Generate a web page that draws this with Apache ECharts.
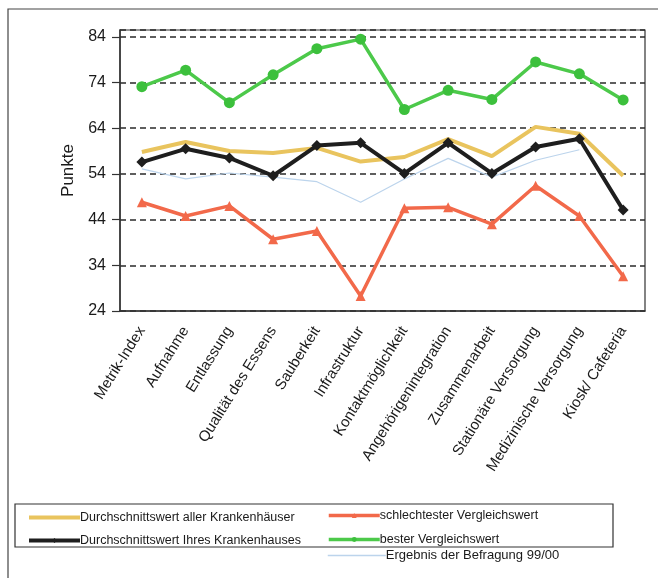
<!DOCTYPE html>
<html><head><meta charset="utf-8">
<script src="https://cdn.jsdelivr.net/npm/echarts@6/dist/echarts.min.js"></script>
<style>html,body{margin:0;padding:0;background:#fff}#c{width:658px;height:578px}</style>
</head><body><div id="c"></div>
<script>
const categories = ['Metrik-Index','Aufnahme','Entlassung','Qualität des Essens','Sauberkeit','Infrastruktur','Kontaktmöglichkeit','Angehörigenintegration','Zusammenarbeit','Stationäre Versorgung','Medizinische Versorgung','Kiosk/ Cafeteria'];
const avgAll   = [58.8, 61.0, 59.0, 58.6, 59.7, 56.7, 57.7, 61.6, 57.9, 64.3, 62.8, 53.6];
const avgOwn   = [56.6, 59.5, 57.5, 53.6, 60.2, 60.8, 54.1, 60.8, 54.1, 59.9, 61.7, 46.1];
const worst    = [47.8, 44.8, 47.0, 39.7, 41.5, 27.3, 46.5, 46.7, 43.0, 51.4, 44.8, 31.6];
const best     = [73.1, 76.7, 69.6, 75.7, 81.4, 83.5, 68.1, 72.3, 70.3, 78.5, 75.9, 70.2];
const prev9900 = [55.1, 52.9, 54.2, 53.3, 52.3, 47.8, 52.9, 57.4, 53.3, 57.0, 59.3, null];
const yTicks = {min: 24, max: 85.5, interval: 10};
const names = ['Durchschnittswert aller Krankenhäuser','Durchschnittswert Ihres Krankenhauses','schlechtester Vergleichswert','bester Vergleichswert','Ergebnis der Befragung 99/00'];

const font = 'Liberation Sans, Arial, sans-serif';
const chart = echarts.init(document.getElementById('c'));
function leg(name, left, top, lw, hideSym, fs, w){
  return {data:[name], left:left, top:top, itemWidth:w || 51, itemHeight:6, itemGap:0, padding:0,
    lineStyle:{width:lw}, itemStyle: hideSym ? {opacity:0} : {},
    textStyle:{fontFamily:font, fontSize:fs || 12.5, color:'#1a1a1a', padding:[0,0,0,-5]}, selectedMode:false};
}
chart.setOption({
  animation:false,
  backgroundColor:'#fff',
  grid:{left:120, right:13, top:30, bottom:267, show:true, borderColor:'#333', borderWidth:1.2},
  graphic:[
    {type:'rect', shape:{x:8,y:9,width:660,height:600}, style:{fill:'none', stroke:'#444', lineWidth:1.2}, silent:true},
    {type:'rect', shape:{x:15,y:504,width:598,height:43}, style:{fill:'none', stroke:'#333', lineWidth:1.2}, silent:true}
  ],
  legend:[
    leg(names[0], 27, 511, 4, true),
    leg(names[1], 27, 534, 4, false),
    leg(names[2], 327, 509, 3.5, false),
    leg(names[3], 327, 533, 3.5, false),
    leg(names[4], 327, 549, 1.5, true, 13, 58)
  ],
  xAxis:{type:'category', data:categories, boundaryGap:true,
    axisLine:{lineStyle:{color:'#333', width:1.5}},
    axisTick:{inside:true, length:5, lineStyle:{color:'#333', width:1.2}},
    axisLabel:{rotate:58, margin:17, fontFamily:font, fontSize:15, color:'#1a1a1a', interval:0}},
  yAxis:{type:'value', min:yTicks.min, max:yTicks.max, interval:yTicks.interval,
    name:'Punkte', nameLocation:'middle', nameGap:42, nameRotate:90,
    nameTextStyle:{fontFamily:font, fontSize:17, color:'#1a1a1a'},
    axisLine:{show:true, lineStyle:{color:'#333', width:1.5}},
    axisTick:{show:true, length:8, lineStyle:{color:'#333', width:1.2}},
    axisLabel:{showMaxLabel:false, fontFamily:font, fontSize:16, color:'#1a1a1a', margin:14},
    splitLine:{show:true, lineStyle:{color:'#2a2a2a', width:1.6, type:[6,4]}}},
  series:[
    {name:names[0], type:'line', data:avgAll, symbol:'none', z:2,
      lineStyle:{color:'#e9c45e', width:4}, itemStyle:{color:'#e9c45e'}},
    {name:names[4], type:'line', data:prev9900, symbol:'none', z:1,
      lineStyle:{color:'#bcd4ec', width:1.2}, itemStyle:{color:'#bcd4ec'}},
    {name:names[2], type:'line', data:worst, symbol:'triangle', symbolSize:10, z:3,
      lineStyle:{color:'#f2694a', width:3.5}, itemStyle:{color:'#f2694a'}},
    {name:names[3], type:'line', data:best, symbol:'circle', symbolSize:11, z:3,
      lineStyle:{color:'#4cc94a', width:3.5}, itemStyle:{color:'#3cc03c'}},
    {name:names[1], type:'line', data:avgOwn, symbol:'diamond', symbolSize:11, z:4,
      lineStyle:{color:'#1e1e1e', width:4}, itemStyle:{color:'#1e1e1e'}}
  ]
});
</script></body></html>
